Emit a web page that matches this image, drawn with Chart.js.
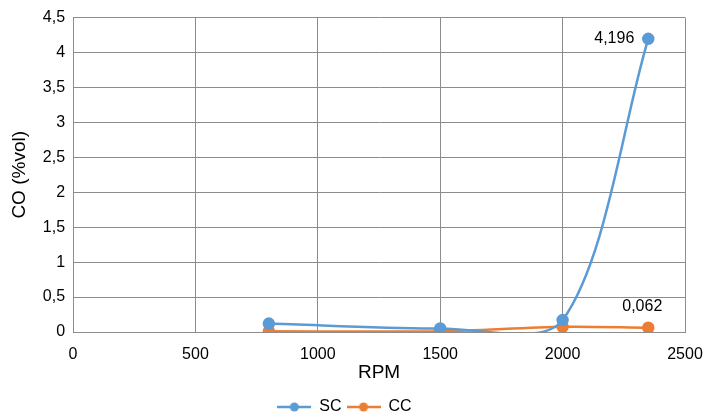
<!DOCTYPE html>
<html>
<head>
<meta charset="utf-8">
<script src="https://cdn.jsdelivr.net/npm/chart.js@4/dist/chart.umd.min.js"></script>
<style>
  html, body { margin: 0; padding: 0; background: #fff; }
  #wrap { width: 709px; height: 419px; }
</style>
</head>
<body>
<div id="wrap"><canvas id="co-chart"></canvas></div>
<script>
// data
var rpm = [800, 1500, 2000, 2350];
var scValues = [0.12, 0.05, 0.17, 4.196];
var ccValues = [0.01, 0.01, 0.075, 0.062];
var yTicks = [0, 0.5, 1, 1.5, 2, 2.5, 3, 3.5, 4, 4.5];

var blue = '#5b9bd5';
var orange = '#ed7d31';

function toComma(v) {
    return String(v).replace('.', ',');
}

//Small line + dot marker for the legend
function legendMarker(color) {
    var c = document.createElement('canvas');
    c.width = 34;
    c.height = 12;
    var g = c.getContext('2d');
    g.strokeStyle = color;
    g.lineWidth = 2.5;
    g.beginPath();
    g.moveTo(0, 6);
    g.lineTo(34, 6);
    g.stroke();
    g.fillStyle = color;
    g.beginPath();
    g.arc(17, 6, 4.5, 0, Math.PI * 2);
    g.fill();
    return c;
}

//Labels next to the last point of each series
var lastLabels = {
    id: 'lastLabels',
    afterDatasetsDraw: function(chart) {
        var ctx = chart.ctx;
        ctx.save();
        ctx.font = '16px "Liberation Sans", Arial, sans-serif';
        ctx.fillStyle = '#000';
        ctx.textBaseline = 'middle';

        var sc = chart.getDatasetMeta(0).data;
        var p = sc[sc.length - 1];
        ctx.textAlign = 'right';
        ctx.fillText(toComma(scValues[scValues.length - 1]), p.x - 14, p.y);

        var cc = chart.getDatasetMeta(1).data;
        var q = cc[cc.length - 1];
        ctx.textAlign = 'center';
        ctx.fillText(toComma(ccValues[ccValues.length - 1]), q.x - 6, q.y - 21);
        ctx.restore();
    }
};

var ctx = document.getElementById('co-chart').getContext('2d');
Chart.defaults.font.family = '"Liberation Sans", Arial, sans-serif';
Chart.defaults.color = '#000';

new Chart(ctx, {
    type: 'line',
    data: {
        datasets: [
            {
                label: 'SC',
                data: rpm.map(function(x, i) { return {x: x, y: scValues[i]}; }),
                borderColor: blue,
                backgroundColor: blue,
                borderWidth: 2.5,
                pointRadius: 5,
                pointHoverRadius: 5,
                tension: 0.3,
                capBezierPoints: false
            },
            {
                label: 'CC',
                data: rpm.map(function(x, i) { return {x: x, y: ccValues[i]}; }),
                borderColor: orange,
                backgroundColor: orange,
                borderWidth: 2.5,
                pointRadius: 5,
                pointHoverRadius: 5,
                tension: 0.3,
                capBezierPoints: false
            }
        ]
    },
    options: {
        responsive: true,
        maintainAspectRatio: false,
        animation: false,
        layout: { padding: { top: 8, right: 24, left: 4, bottom: -6 } },
        plugins: {
            legend: {
                position: 'bottom',
                labels: {
                    usePointStyle: true,
                    pointStyleWidth: 34,
                    font: { size: 16 },
                    padding: 5,
                    generateLabels: function(chart) {
                        return chart.data.datasets.map(function(ds, i) {
                            return {
                                text: ds.label,
                                pointStyle: legendMarker(ds.borderColor),
                                fillStyle: ds.borderColor,
                                strokeStyle: ds.borderColor,
                                lineWidth: 0,
                                datasetIndex: i
                            };
                        });
                    }
                }
            },
            tooltip: { enabled: false }
        },
        scales: {
            x: {
                type: 'linear',
                min: 0,
                max: 2500,
                afterFit: function(scale) {
                    scale.paddingRight = 0;
                },
                ticks: {
                    stepSize: 500,
                    font: { size: 16 },
                    padding: 13,
                    callback: function(v) { return String(v); }
                },
                grid: { color: '#8c8c8c', lineWidth: 1, drawTicks: false },
                border: { color: '#8c8c8c' },
                title: { display: true, text: 'RPM', font: { size: 19 }, padding: { top: -16, bottom: 10 } }
            },
            y: {
                min: 0,
                max: 4.5,
                afterBuildTicks: function(axis) {
                    axis.ticks = yTicks.map(function(v) { return {value: v}; });
                },
                ticks: {
                    font: { size: 16 },
                    padding: 8,
                    callback: function(v) { return toComma(v); }
                },
                grid: { color: '#8c8c8c', lineWidth: 1, drawTicks: false },
                border: { color: '#8c8c8c' },
                title: { display: true, text: 'CO (%vol)', font: { size: 19 } }
            }
        }
    },
    plugins: [lastLabels]
});
</script>
</body>
</html>
